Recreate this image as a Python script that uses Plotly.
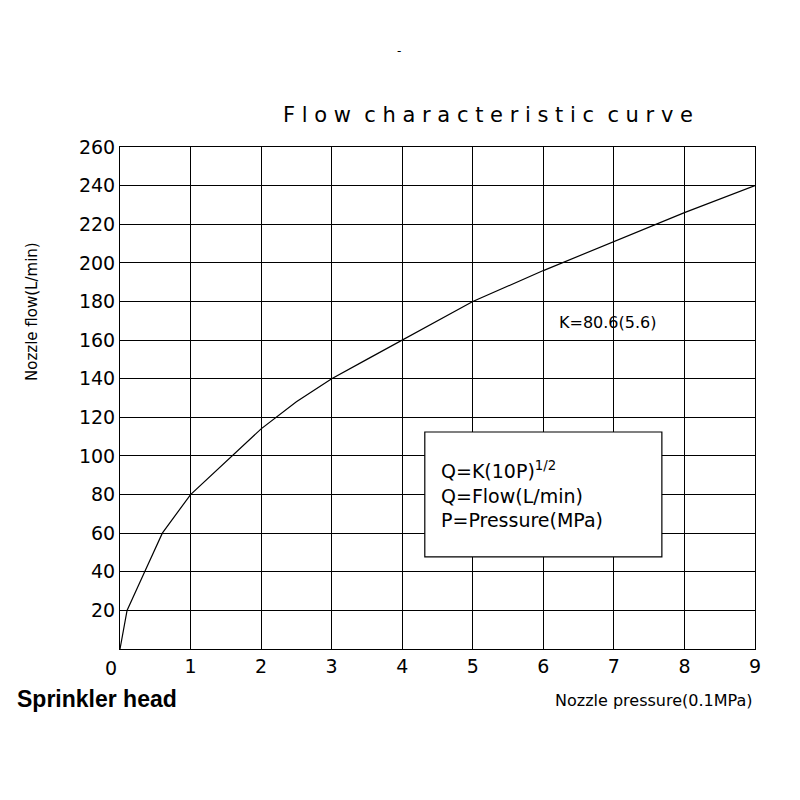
import plotly.graph_objects as go

pressure = [0, 0.1, 0.35, 0.6, 1, 1.5, 2, 2.5, 3, 3.5, 4, 5, 6, 7, 8, 9]
flow = [0, 20, 40, 60, 80, 97, 114, 128, 140, 150, 160, 180, 196, 211, 226, 240]
xticks = list(range(1, 10))
yticks = list(range(20, 261, 20))

fig = go.Figure(go.Scatter(x=pressure, y=flow, mode="lines",
                           line=dict(color="black", width=1.2), hoverinfo="skip"))
f = dict(family="DejaVu Sans", color="black")
fig.update_layout(
    width=800, height=800, plot_bgcolor="white", paper_bgcolor="white",
    margin=dict(l=112, r=53, t=139, b=159), showlegend=False,
    xaxis=dict(range=[0, 9], tickvals=xticks, showgrid=True, gridcolor="black", gridwidth=1,
               showline=True, linecolor="black", mirror=True, zeroline=False,
               tickfont=dict(size=19, **f), ticks=""),
    yaxis=dict(range=[0, 260], tickvals=yticks, showgrid=True, gridcolor="black", gridwidth=1,
               showline=True, linecolor="black", mirror=True, zeroline=False,
               tickfont=dict(size=19, **f), ticks=""),
    annotations=[
        dict(text="F l o w  c h a r a c t e r i s t i c  c u r v e", xref="paper", yref="paper",
             x=0.58, y=1.035, yanchor="bottom", showarrow=False, font=dict(size=21, **f)),
        dict(text="Nozzle flow(L/min)", xref="paper", yref="paper", x=-0.155, y=0.815,
             textangle=-90, showarrow=False, font=dict(size=15, **f)),
        dict(text="0", xref="paper", yref="paper", x=-0.027, y=-0.012, yanchor="top",
             showarrow=False, font=dict(size=19, **f)),
        dict(text="<b>Sprinkler head</b>", xref="paper", yref="paper", x=-0.165, y=-0.07,
             xanchor="left", yanchor="top", showarrow=False,
             font=dict(size=23, family="Liberation Sans", color="black")),
        dict(text="Nozzle pressure(0.1MPa)", xref="paper", yref="paper", x=1.0, y=-0.08,
             xanchor="right", yanchor="top", showarrow=False, font=dict(size=16, **f)),
        dict(text="K=80.6(5.6)", x=6.2, y=169, xanchor="left", showarrow=False,
             font=dict(size=16, **f)),
        dict(text="Q=K(10P)<sup>1/2</sup><br>Q=Flow(L/min)<br>P=Pressure(MPa)", x=4.52, y=80,
             xanchor="left", align="left", showarrow=False, font=dict(size=19, **f)),
        dict(text="-", xref="paper", yref="paper", x=0.44, y=1.21, showarrow=False,
             font=dict(size=12, **f)),
    ],
    shapes=[dict(type="rect", x0=4.32, x1=7.68, y0=47.7, y1=112.4,
                 line=dict(color="black", width=1.2), fillcolor="white", layer="above")],
)
fig.write_html("out.html")
